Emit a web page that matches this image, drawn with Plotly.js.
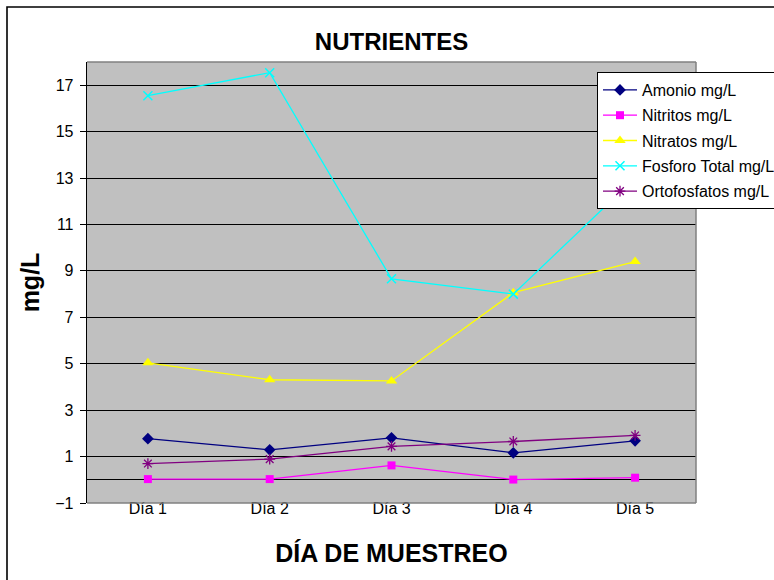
<!DOCTYPE html>
<html>
<head>
<meta charset="utf-8">
<script src="https://cdn.plot.ly/plotly-3.0.1.min.js"></script>
<style>html,body{margin:0;padding:0;background:#fff;}#chart{width:774px;height:580px;}</style>
</head>
<body>
<div id="chart"></div>
<script>
const categories = ["Día 1", "Día 2", "Día 3", "Día 4", "Día 5"];
const amonio = [1.77, 1.29, 1.81, 1.16, 1.68];
const nitritos = [0.03, 0.03, 0.62, 0.01, 0.09];
const nitratos = [5.04, 4.31, 4.26, 8.06, 9.40];
const fosforoTotal = [16.55, 17.54, 8.66, 8.00, 13.0];
const ortofosfatos = [0.70, 0.89, 1.44, 1.65, 1.91];
const seriesNames = ["Amonio mg/L", "Nitritos mg/L", "Nitratos mg/L", "Fosforo Total mg/L", "Ortofosfatos mg/L"];
const yTicks = [-1, 1, 3, 5, 7, 9, 11, 13, 15, 17];
const boundaries = [-0.5, 0.5, 1.5, 2.5, 3.5, 4.5];

const font = "Arial, 'Liberation Sans', sans-serif";

function tr(name, y, color, symbol, size, mline) {
  return {
    type: 'scatter', mode: 'lines+markers', name: name, x: categories, y: y,
    legendgroup: name,
    line: {color: color, width: 1.3},
    marker: {color: color, symbol: symbol, size: size, line: {color: color, width: mline}},
    cliponaxis: false
  };
}

const data = [
  tr(seriesNames[0], amonio, '#000080', 'diamond', 9, 0),
  tr(seriesNames[1], nitritos, '#FF00FF', 'square', 8, 0),
  tr(seriesNames[2], nitratos, '#FFFF00', 'triangle-up', 10, 0),
  tr(seriesNames[3], fosforoTotal, '#00FFFF', 'x-thin-open', 9, 1.5),
  tr(seriesNames[4], ortofosfatos, '#800080', 'asterisk-open', 9, 1.3)
];

const layout = {
  width: 774, height: 580,
  margin: {l: 87, r: 78, t: 62, b: 77, autoexpand: false},
  paper_bgcolor: '#ffffff',
  plot_bgcolor: '#C0C0C0',
  font: {family: font, color: '#000000', size: 16},
  showlegend: true,
  title: {text: '<b>NUTRIENTES</b>', font: {family: font, size: 24, color: '#000'},
          x: 0.5, xref: 'paper', y: 1 - 42/580, yref: 'container', yanchor: 'middle'},
  xaxis: {
    type: 'category', range: [-0.5, 4.5], fixedrange: true,
    showgrid: false, zeroline: false, showline: false, ticks: '',
    tickfont: {family: font, size: 16, color: '#000'},
    ticklabelstandoff: -6,
    title: {text: '<b>DÍA DE MUESTREO</b>', font: {family: font, size: 25, color: '#000'}, standoff: 28}
  },
  xaxis2: {
    overlaying: 'x', anchor: 'free', position: 1/19, range: [-0.5, 4.5],
    tickmode: 'array', tickvals: boundaries, showticklabels: false,
    ticks: 'outside', ticklen: 5, tickcolor: '#000', tickwidth: 1,
    showline: true, linecolor: '#000', linewidth: 1, showgrid: false, zeroline: false
  },
  yaxis: {
    range: [-1, 18], tickmode: 'array', tickvals: yTicks,
    showgrid: true, gridcolor: '#000000', gridwidth: 1,
    zeroline: true, zerolinecolor: '#000', zerolinewidth: 1,
    showline: true, linecolor: '#000', linewidth: 1.3,
    ticks: 'outside', ticklen: 6, tickcolor: '#000',
    tickfont: {family: font, size: 16, color: '#000'},
    ticklabelstandoff: 3,
    title: {text: '<b>mg/L</b>', font: {family: font, size: 25, color: '#000'}, standoff: 8}
  },
  legend: {
    x: (597-87)/609, y: (503-72)/441, xanchor: 'left', yanchor: 'top',
    bgcolor: '#ffffff', bordercolor: '#000000', borderwidth: 1,
    font: {family: font, size: 16, color: '#000'},
    tracegroupgap: 1.5, itemwidth: 34
  },
  shapes: [
    {type: 'line', xref: 'paper', yref: 'paper', x0: 0, x1: 1, y0: 1, y1: 1, line: {color: '#808080', width: 1.5}},
    {type: 'line', xref: 'paper', yref: 'paper', x0: 1, x1: 1, y0: 0, y1: 1, line: {color: '#808080', width: 1.5}},
    {type: 'line', xref: 'paper', yref: 'paper', x0: 0, x1: 1, y0: 0, y1: 0, line: {color: '#808080', width: 1.5}},
    {type: 'rect', xref: 'paper', yref: 'paper', x0: (7-87)/609, x1: 1.2, y0: -0.3, y1: (503-7)/441,
     line: {color: '#000', width: 1.6}, fillcolor: 'rgba(0,0,0,0)'}
  ]
};

Plotly.newPlot('chart', data, layout, {displayModeBar: false, staticPlot: true});
</script>
</body>
</html>
